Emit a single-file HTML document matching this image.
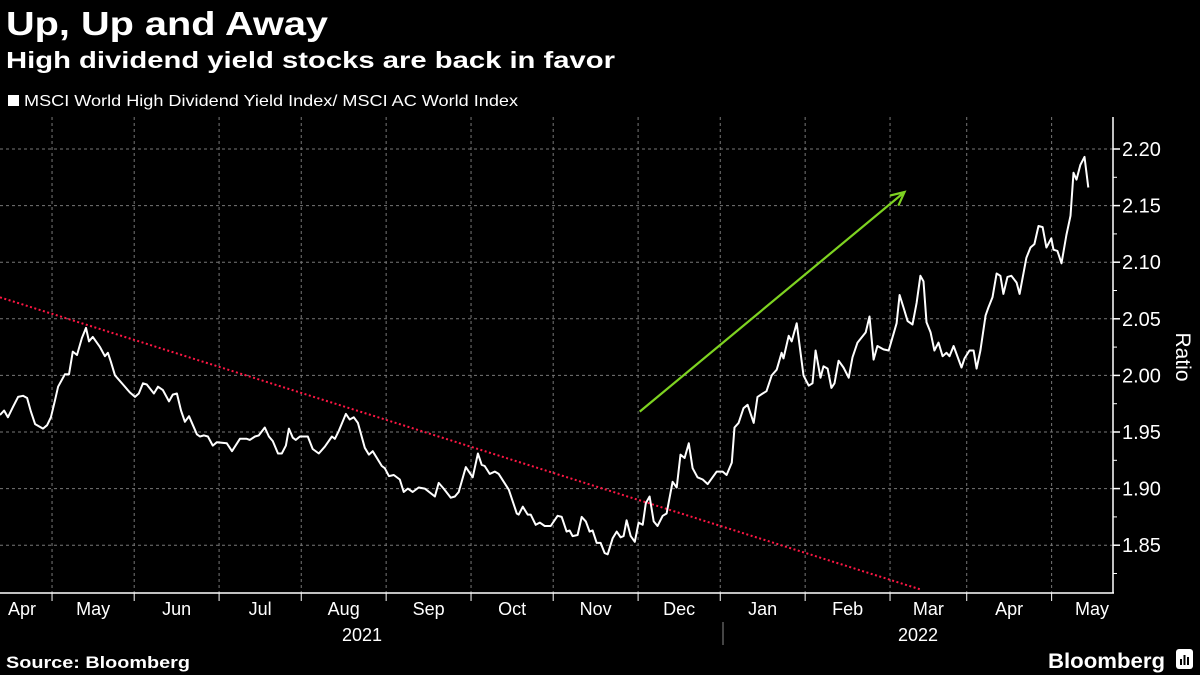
<!DOCTYPE html>
<html><head><meta charset="utf-8"><style>
html,body{margin:0;padding:0;background:#000;}
svg{display:block;font-family:"Liberation Sans",sans-serif;}
</style></head><body>
<svg id="chart" width="1200" height="675" viewBox="0 0 1200 675">
<rect x="0" y="0" width="1200" height="675" fill="#000"/>
<text x="6" y="35" fill="#fff" font-size="33" font-weight="bold" textLength="322" lengthAdjust="spacingAndGlyphs">Up, Up and Away</text>
<text x="6" y="68" fill="#fff" font-size="23" font-weight="bold" textLength="609" lengthAdjust="spacingAndGlyphs">High dividend yield stocks are back in favor</text>
<rect x="8" y="95" width="11" height="11" fill="#fff"/>
<text x="24" y="106" fill="#fff" font-size="16" textLength="494" lengthAdjust="spacingAndGlyphs">MSCI World High Dividend Yield Index/ MSCI AC World Index</text>
<g id="grid"></g>
<g id="axes"></g>
<g id="marks"></g>
<text x="0" y="0" fill="#fff" font-size="21" transform="translate(1176,357) rotate(90)" text-anchor="middle">Ratio</text>
<text x="6" y="668" fill="#fff" font-size="17" font-weight="bold" textLength="184" lengthAdjust="spacingAndGlyphs">Source: Bloomberg</text>
<text x="1165" y="668" fill="#fff" font-size="21" font-weight="bold" text-anchor="end" textLength="117" lengthAdjust="spacingAndGlyphs">Bloomberg</text>
<g>
<rect x="1176" y="649" width="17" height="20" rx="3" fill="#fff"/>
<rect x="1180" y="659" width="2" height="6" fill="#000"/><rect x="1183.5" y="655" width="2" height="10" fill="#000"/><rect x="1187" y="657" width="2" height="8" fill="#000"/>
</g>
</svg>
<script>
const days = [0,1.5,2.9,4.7,6.6,8.4,9.9,11.3,12.8,15.7,17.2,18.6,20.1,21.2,23.7,25.2,26.6,28.1,29.9,31.4,32.5,33.9,36.5,38.3,39.4,40.5,42.0,44.9,47.4,49.3,50.7,52.2,53.6,56.2,57.7,59.5,61.7,63.1,64.6,66.1,67.5,69.0,71.9,73.0,74.5,75.9,77.7,79.2,82.8,84.7,87.6,90.1,91.2,93.1,94.5,96.7,98.2,99.6,101.5,102.9,104.4,105.5,106.9,108.0,109.5,112.4,114.2,116.4,118.6,121.2,122.3,123.7,126.3,127.7,129.2,130.7,133.2,134.7,136.1,139.4,140.5,142.0,143.8,146.0,147.4,148.9,150.7,152.9,155.1,158.8,160.2,162.0,164.6,166.1,167.5,170.1,172.6,174.5,175.9,177.0,178.8,180.7,182.1,185.8,188.7,189.4,190.9,192.7,193.8,195.6,197.1,198.9,201.1,203.6,205.1,206.9,208.0,209.1,210.9,212.4,213.9,215.3,216.4,217.9,219.3,220.8,221.9,223.7,225.2,226.6,227.7,228.8,230.3,231.8,233.2,234.7,235.8,237.2,238.7,240.1,242.0,243.4,245.6,247.1,248.5,250.0,251.5,252.9,254.7,256.6,258.4,261.7,263.9,265.3,267.2,268.2,269.7,271.5,273.0,275.2,276.6,278.5,279.9,281.8,283.6,285.4,286.1,288.0,289.1,290.9,293.4,295.3,296.7,297.8,299.6,300.7,302.2,303.6,304.7,306.2,308.0,309.9,311.3,313.1,316.1,317.5,319.0,320.4,322.6,324.5,327.4,328.5,329.9,331.4,333.2,334.7,336.1,337.2,338.3,339.8,341.2,342.7,344.2,345.6,346.7,348.2,351.1,352.2,354.0,355.5,356.6,358.0,359.9,360.9,362.4,363.9,365.3,366.4,367.9,369.3,371.2,372.3,374.8,376.3,377.7,379.2,380.7,382.1,383.9,384.7,386.1,387.6,389.4,390.9,392.0,393.1,394.5,396.0,397.4];
const values = [1.965,1.969,1.963,1.972,1.981,1.982,1.980,1.968,1.957,1.953,1.956,1.963,1.978,1.990,2.001,2.001,2.021,2.018,2.033,2.042,2.030,2.034,2.025,2.017,2.020,2.012,2.000,1.992,1.985,1.981,1.984,1.993,1.992,1.984,1.990,1.987,1.977,1.983,1.984,1.969,1.959,1.964,1.948,1.946,1.947,1.946,1.938,1.941,1.940,1.933,1.944,1.944,1.943,1.946,1.947,1.954,1.946,1.942,1.931,1.931,1.938,1.953,1.945,1.943,1.946,1.946,1.935,1.931,1.937,1.946,1.944,1.951,1.966,1.961,1.963,1.958,1.936,1.930,1.933,1.920,1.918,1.911,1.912,1.908,1.897,1.900,1.897,1.901,1.900,1.893,1.905,1.900,1.892,1.893,1.897,1.919,1.910,1.931,1.921,1.920,1.913,1.915,1.913,1.899,1.878,1.877,1.884,1.877,1.877,1.868,1.870,1.867,1.867,1.876,1.875,1.862,1.863,1.858,1.859,1.875,1.871,1.862,1.863,1.852,1.852,1.843,1.842,1.856,1.862,1.857,1.858,1.872,1.858,1.853,1.870,1.868,1.887,1.893,1.871,1.867,1.876,1.878,1.906,1.901,1.930,1.927,1.940,1.918,1.910,1.908,1.904,1.915,1.915,1.912,1.923,1.954,1.958,1.971,1.974,1.958,1.981,1.984,1.986,2.000,2.005,2.020,2.015,2.035,2.030,2.046,2.000,1.991,1.993,2.022,1.998,2.008,2.006,1.989,1.993,2.013,2.007,1.998,2.016,2.029,2.038,2.052,2.014,2.026,2.023,2.022,2.046,2.071,2.060,2.048,2.045,2.064,2.088,2.083,2.047,2.038,2.022,2.029,2.017,2.020,2.017,2.026,2.007,2.015,2.022,2.022,2.006,2.022,2.053,2.060,2.069,2.090,2.088,2.072,2.087,2.088,2.082,2.072,2.104,2.113,2.116,2.132,2.131,2.113,2.121,2.111,2.110,2.099,2.124,2.141,2.179,2.173,2.186,2.193,2.166];
const yTicks = [1.85,1.90,1.95,2.00,2.05,2.10,2.15,2.20];
const yTickLabels = ["1.85","1.90","1.95","2.00","2.05","2.10","2.15","2.20"];
const monthLabels = ["Apr","May","Jun","Jul","Aug","Sep","Oct","Nov","Dec","Jan","Feb","Mar","Apr","May"];
const monthStartDays = [19,49,80,110,141,172,202,233,263,294,325,353,384];
const yearLabels = ["2021","2022"];
const trendDays = [0,336];
const trendValues = [2.069,1.811];
const arrowDays = [233.6,330.3];
const arrowValues = [1.968,2.162];

const NS = "http://www.w3.org/2000/svg";
const PL = 0, PR = 1113, PT = 117, PB = 593;
const xs = d => d * 2.7386;
const ys = v => 149 + (2.20 - v) / 0.05 * 56.6;
function mk(tag, attrs, parent){ const e = document.createElementNS(NS, tag); for (const k in attrs) e.setAttribute(k, attrs[k]); parent.appendChild(e); return e; }
const grid = document.getElementById('grid'), axes = document.getElementById('axes'), marks = document.getElementById('marks');

yTicks.forEach((t,i) => {
  const l = mk('line', {x1:PL, x2:PR, y1:ys(t), y2:ys(t), stroke:'#777', 'stroke-width':1, 'stroke-dasharray':'3,3'}, grid);
  
  
  const tk = mk('line', {x1:PR, x2:PR+7, y1:ys(t), y2:ys(t), stroke:'#fff', 'stroke-width':1.5}, axes);
  
  
  const tx = mk('text', {x:PR+9, y:ys(t)+7, fill:'#fff', 'font-size':20}, axes);
  tx.textContent = yTickLabels[i];
  
  
  if (i < yTicks.length - 1) {
    const mt = mk('line', {x1:PR, x2:PR+4, y1:ys(t+0.025), y2:ys(t+0.025), stroke:'#fff', 'stroke-width':1}, axes);
    
    
  }
});
const mt0 = mk('line', {x1:PR, x2:PR+4, y1:ys(1.825), y2:ys(1.825), stroke:'#fff', 'stroke-width':1}, axes);



monthStartDays.forEach(d => {
  const l = mk('line', {x1:xs(d), x2:xs(d), y1:PT, y2:PB, stroke:'#777', 'stroke-width':1, 'stroke-dasharray':'3,3'}, grid);
  
  
  const tk = mk('line', {x1:xs(d), x2:xs(d), y1:PB, y2:PB+8, stroke:'#fff', 'stroke-width':1}, axes);
  
  
});
const bounds = [0].concat(monthStartDays).concat([398]);
monthLabels.forEach((m,i) => {
  let cx = (xs(bounds[i]) + xs(bounds[i+1])) / 2;
  if (i === 0) cx = 22;
  if (i === monthLabels.length - 1) cx = 1092;
  const t = mk('text', {x:cx, y:615, fill:'#fff', 'font-size':18, 'text-anchor':'middle'}, axes);
  t.textContent = m;
  
  
});
const y1 = mk('text', {x:362, y:641, fill:'#fff', 'font-size':18, 'text-anchor':'middle'}, axes);
y1.textContent = yearLabels[0];


const y2 = mk('text', {x:918, y:641, fill:'#fff', 'font-size':18, 'text-anchor':'middle'}, axes);
y2.textContent = yearLabels[1];


const sep = mk('line', {x1:xs(264), x2:xs(264), y1:622, y2:645, stroke:'#888', 'stroke-width':1}, axes);



const ax = mk('line', {x1:PL, x2:PR+1, y1:PB, y2:PB, stroke:'#fff', 'stroke-width':1.5}, axes);


const ay = mk('line', {x1:PR, x2:PR, y1:PT, y2:PB, stroke:'#fff', 'stroke-width':1.5}, axes);



let tx1 = xs(trendDays[0]), ty1 = ys(trendValues[0]), tx2 = xs(trendDays[1]), ty2 = ys(trendValues[1]);
if (ty2 > PB) { const f = (PB - ty1) / (ty2 - ty1); tx2 = tx1 + (tx2 - tx1) * f; ty2 = PB; }
const tr = mk('line', {x1:tx1, y1:ty1, x2:tx2, y2:ty2, stroke:'#ff1744', 'stroke-width':2, 'stroke-dasharray':'2,2.5'}, marks);



const pts = days.map((d,i) => xs(d).toFixed(1) + ',' + ys(values[i]).toFixed(1)).join(' ');
const ln = mk('polyline', {points:pts, fill:'none', stroke:'#fff', 'stroke-width':2, 'stroke-linejoin':'round'}, marks);



const ax1 = xs(arrowDays[0]), ay1 = ys(arrowValues[0]), ax2 = xs(arrowDays[1]), ay2 = ys(arrowValues[1]);
const ang = Math.atan2(ay2 - ay1, ax2 - ax1), hl = 15;
const h1x = ax2 - hl*Math.cos(ang - 0.45), h1y = ay2 - hl*Math.sin(ang - 0.45);
const h2x = ax2 - hl*Math.cos(ang + 0.45), h2y = ay2 - hl*Math.sin(ang + 0.45);
const ar = mk('path', {d:`M${ax1},${ay1} L${ax2},${ay2} M${h1x},${h1y} L${ax2},${ay2} L${h2x},${h2y}`, fill:'none', stroke:'#7ed321', 'stroke-width':2.2}, marks);


</script>
</body></html>
